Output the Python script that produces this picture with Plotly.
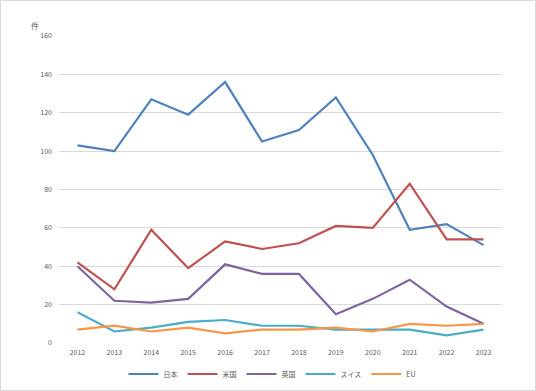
import plotly.graph_objects as go

years = ["2012", "2013", "2014", "2015", "2016", "2017", "2018", "2019", "2020", "2021", "2022", "2023"]
japan = [103, 100, 127, 119, 136, 105, 111, 128, 98, 59, 62, 51]
usa = [42, 28, 59, 39, 53, 49, 52, 61, 60, 83, 54, 54]
uk = [40, 22, 21, 23, 41, 36, 36, 15, 23, 33, 19, 10]
swiss = [16, 6, 8, 11, 12, 9, 9, 7, 7, 7, 4, 7]
eu = [7, 9, 6, 8, 5, 7, 7, 8, 6, 10, 9, 10]

series = [
    ("日本", japan, "#4F81BD"),
    ("米国", usa, "#C0504D"),
    ("英国", uk, "#8064A2"),
    ("スイス", swiss, "#4BACC6"),
    ("EU", eu, "#F79646"),
]

fig = go.Figure()
for name, vals, color in series:
    fig.add_trace(go.Scatter(x=years, y=vals, name=name, mode="lines",
                             line=dict(color=color, width=2.2)))

W, H = 536, 391
l, r, t, b = 59, 34, 36, 48
pw, ph = W - l - r, H - t - b

font = dict(family="Noto Sans CJK JP, Noto Sans, sans-serif", size=7, color="#595959")

fig.update_layout(
    width=W, height=H,
    margin=dict(l=l, r=r, t=t, b=b, autoexpand=False),
    paper_bgcolor="white", plot_bgcolor="white",
    font=font,
    showlegend=True,
    legend=dict(orientation="h", xref="container", yref="container",
                x=272 / W, xanchor="center", y=1 - 374 / H, yanchor="middle",
                font=dict(size=7, color="#595959"), itemwidth=30, tracegroupgap=0),
    xaxis=dict(type="category", range=[-0.5, 11.5], showgrid=False, zeroline=False,
               showline=False, ticks="", tickfont=font, ticklabelstandoff=4),
    yaxis=dict(range=[0, 160], dtick=20, showgrid=True, gridcolor="#D9D9D9", gridwidth=1,
               zeroline=False, showline=False, ticks="", tickfont=font, ticklabelstandoff=6),
    annotations=[dict(text="件", xref="paper", yref="paper",
                      x=(35 - l) / pw, y=(t + ph - 26) / ph, showarrow=False,
                      xanchor="center", yanchor="middle", xshift=0, yshift=0,
                      font=dict(size=8, color="#595959"))],
    shapes=[dict(type="rect", xref="paper", yref="paper",
                 x0=(0.5 - l) / pw, x1=(W - 0.5 - l) / pw,
                 y0=(t + ph - (H - 0.5)) / ph, y1=(t + ph - 0.5) / ph,
                 line=dict(color="#D9D9D9", width=1), layer="below")],
)

fig.write_html("out.html", config={"displayModeBar": False},
               post_script="document.body.style.margin='0';")
